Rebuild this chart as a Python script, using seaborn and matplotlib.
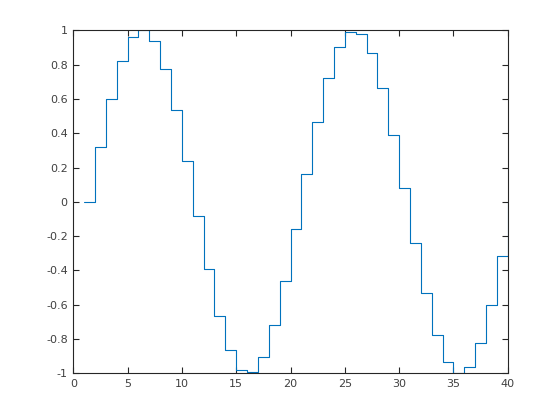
import matplotlib
matplotlib.use("Agg")
import matplotlib.pyplot as plt
import seaborn as sns
import numpy as np

x_vals = list(range(1, 41))
y_vals = [0.0, 0.3167, 0.6006, 0.8230, 0.9606, 0.9992, 0.9350, 0.7747, 0.5345, 0.2393,
          -0.0805, -0.3920, -0.6631, -0.8660, -0.9798, -0.9927, -0.9034, -0.7212, -0.4647, -0.1604,
          0.1604, 0.4647, 0.7212, 0.9034, 0.9927, 0.9798, 0.8660, 0.6631, 0.3920, 0.0805,
          -0.2393, -0.5345, -0.7747, -0.9350, -0.9992, -0.9606, -0.8230, -0.6006, -0.3167, 0.0]
x_ticks = [0, 5, 10, 15, 20, 25, 30, 35, 40]
y_ticks = [-1, -0.8, -0.6, -0.4, -0.2, 0, 0.2, 0.4, 0.6, 0.8, 1]
y_labels = ["-1", "-0.8", "-0.6", "-0.4", "-0.2", "0", "0.2", "0.4", "0.6", "0.8", "1"]

sns.set_style("white")
plt.rcParams['font.family'] = ['DejaVu Sans']

fig = plt.figure(figsize=(5.6, 4.2), dpi=100)
ax = fig.add_axes([73.3/560, 1 - 373.3/420, (507.7-73.3)/560, (373.3-30.3)/420])

sns.lineplot(x=x_vals, y=y_vals, drawstyle='steps-post', sort=False, estimator=None,
             color='#0072BD', linewidth=0.8, ax=ax)

ax.set_xlim(0, 40)
ax.set_ylim(-1, 1)
ax.set_xticks(x_ticks)
ax.set_yticks(y_ticks)
ax.set_yticklabels(y_labels)
gray = '#262626'
for s in ax.spines.values():
    s.set_visible(True)
    s.set_color(gray)
    s.set_linewidth(0.8)
ax.tick_params(direction='in', length=4, width=0.8, color=gray, labelcolor='#404040',
               labelsize=8, top=True, right=True, bottom=True, left=True, pad=4)

fig.savefig("out.png", dpi=100)
